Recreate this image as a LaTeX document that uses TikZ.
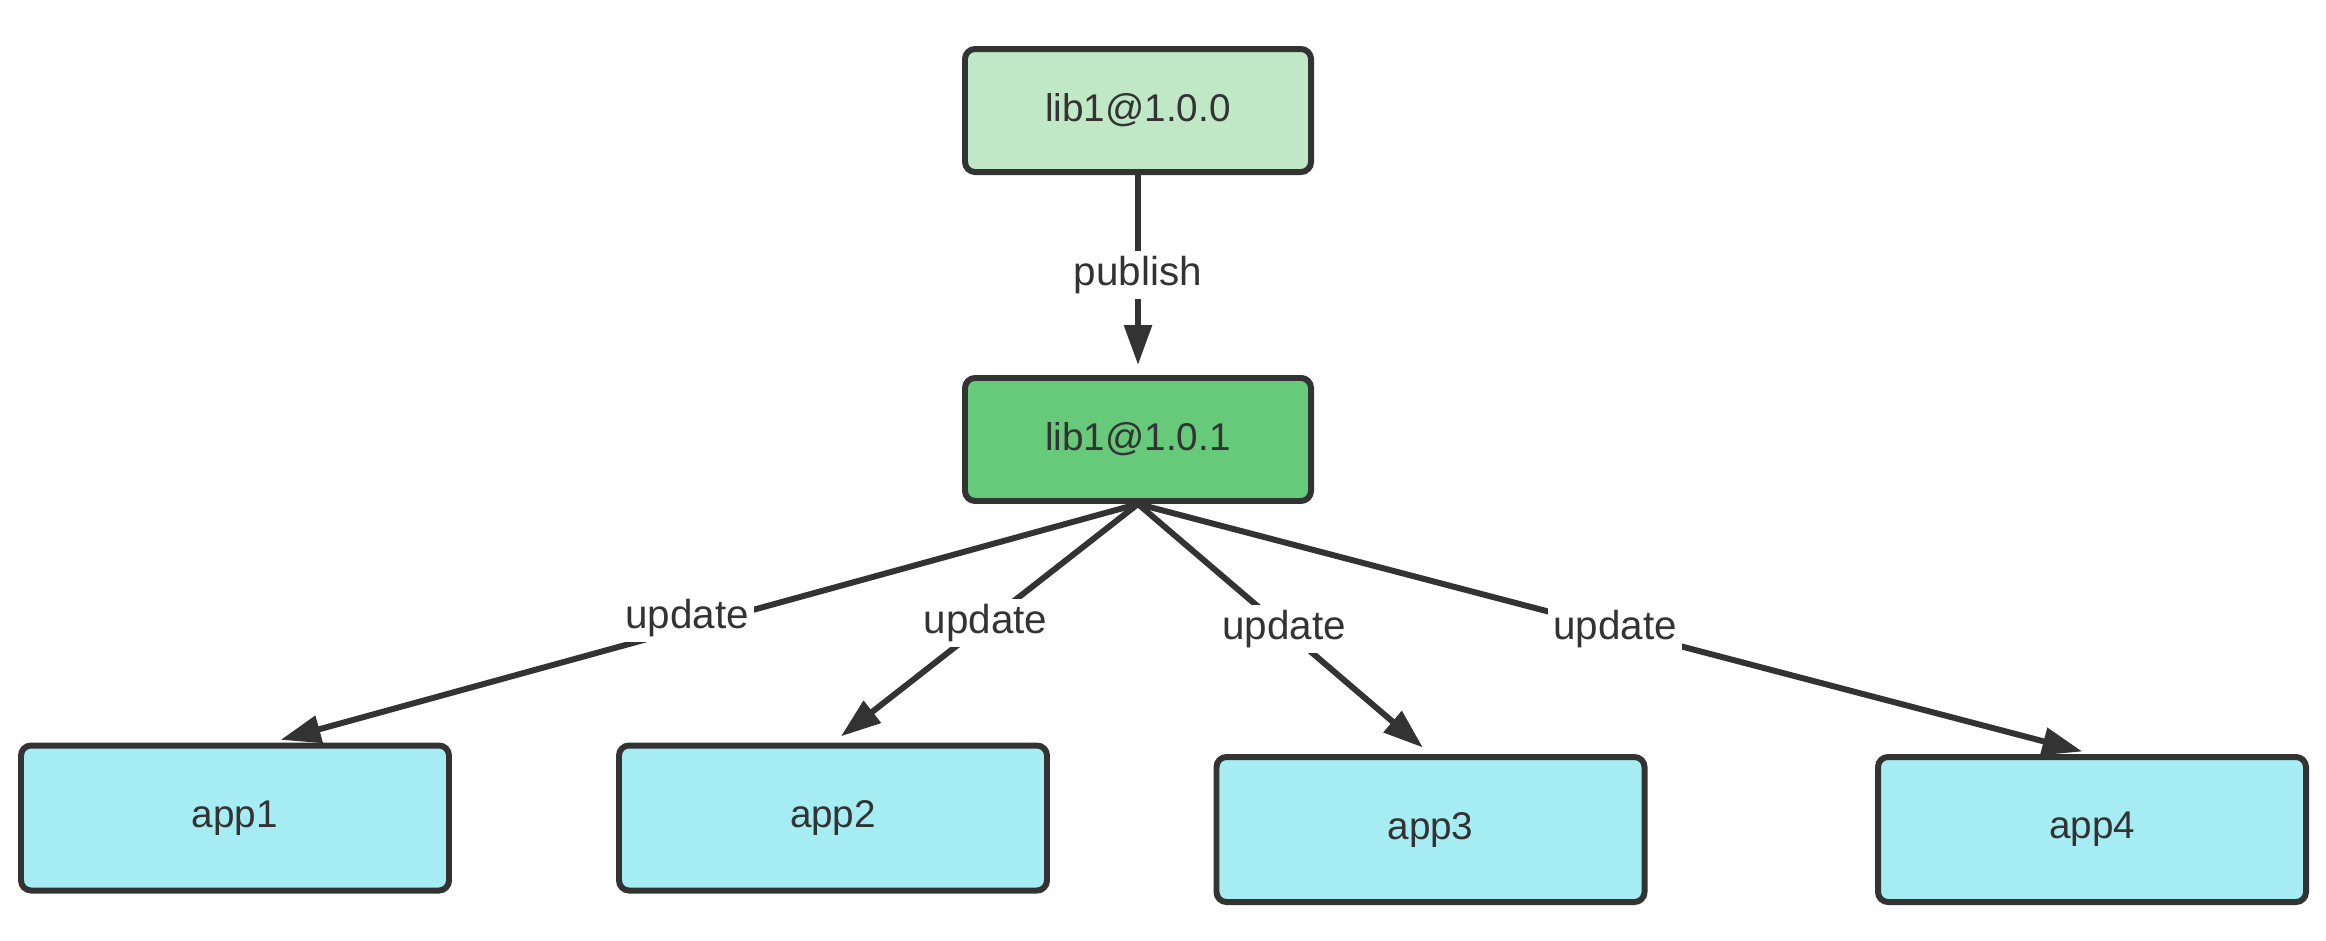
\documentclass[tikz,border=0pt]{standalone}
\usepackage{fontspec}
\setmainfont{Liberation Sans}
\definecolor{libpale}{RGB}{192,232,198}
\definecolor{libgreen}{RGB}{103,201,122}
\definecolor{appcyan}{RGB}{165,236,243}
\definecolor{darkline}{RGB}{51,51,51}
\usetikzlibrary{arrows.meta, positioning}

\begin{document}
\begin{tikzpicture}[node distance=2cm,
    libbox/.style={rectangle, draw=darkline, line width=1.7pt, rounded corners=0.1cm, minimum width=3.46cm, minimum height=1.23cm, text=darkline, font=\fontsize{11}{13}\selectfont},
    appbox/.style={libbox, fill=appcyan, minimum width=4.28cm, minimum height=1.45cm},
    link/.style={draw=darkline, line width=1.7pt, -{Triangle[length=4mm,width=2.7mm]}, shorten >=1mm},
    tag/.style={fill=white, text=darkline, inner sep=1.5pt, font=\fontsize{11.5}{13}\selectfont}]
    \useasboundingbox (0,0) rectangle (23.26,-9.40);
    % Library versions
    \node[libbox, fill=libpale] (old) at (11.38,-1.105) {lib1@1.0.0};
    \node[libbox, fill=libgreen, below=of old] (new) {lib1@1.0.1};
    % Apps that depend on the library
    \node[appbox] (app1) at (2.35,-8.18) {app1};
    \node[appbox] (app2) at (8.33,-8.18) {app2};
    \node[appbox] (app3) at (14.305,-8.295) {app3};
    \node[appbox] (app4) at (20.92,-8.295) {app4};
    % Connectors
    \draw[link] (old) -- node[tag] {publish} (new);
    \draw[link] (new.south) -- node[tag, pos=0.52, yshift=1mm] {update} ([xshift=3.6mm]app1.north);
    \draw[link] (new.south) -- node[tag] {update} (app2.north);
    \draw[link] (new.south) -- node[tag] {update} (app3.north);
    \draw[link] (new.south) -- node[tag] {update} (app4.north);
\end{tikzpicture}
\end{document}
